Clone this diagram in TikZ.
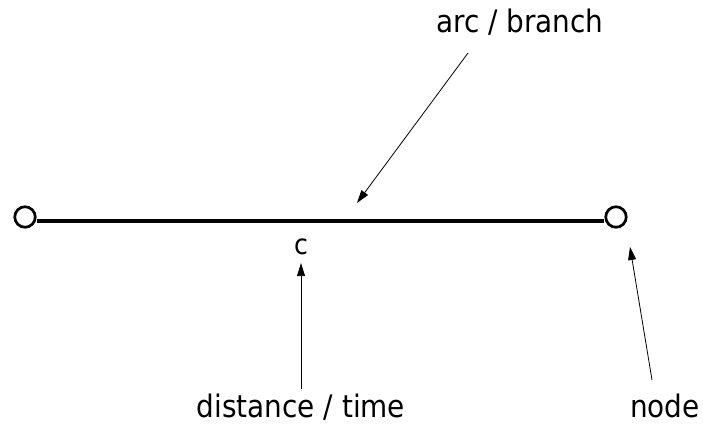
\documentclass[tikz,border=0pt]{standalone}
\usepackage{fontspec}
\setmainfont{DejaVu Sans Condensed}
\usetikzlibrary{arrows.meta}

\begin{document}
\begin{tikzpicture}[
    x=1pt, y=-1pt,
    vertex/.style={draw, circle, line width=2.7pt, minimum size=20.5pt, inner sep=0pt, fill=white},
    branch/.style={line width=4pt},
    pointer/.style={-{Triangle[length=13pt,width=8pt]}, line width=0.8pt},
    lbl/.style={font=\fontsize{31}{37}\selectfont, inner sep=4pt},
    elbl/.style={font=\fontsize{28}{33}\selectfont, inner sep=8.5pt}
]
\useasboundingbox (0,0) rectangle (703,428);
\node[vertex] (from) at (25,217) {};
\node[vertex] (to) at (616,217) {};
\draw[branch] ([yshift=-3.8pt]from.east) -- ([yshift=-3.8pt]to.west);

\node[elbl, anchor=base] (cost) at (301,254) {c};
\node[lbl, anchor=base] (arclbl) at (520,33) {arc / branch};
\node[lbl, anchor=base] (distlbl) at (301,417) {distance / time};
\node[lbl, anchor=base] (nodelbl) at (665,417) {node};

\coordinate (arctail) at (468,53);
\coordinate (arctip) at (357,203);
\coordinate (nodetail) at (652,380);
\coordinate (nodetip) at (630,247);

\draw[pointer] (arctail) -- (arctip);
\draw[pointer] (distlbl.north) -- (cost.south);
\draw[pointer] (nodetail) -- (nodetip);
\end{tikzpicture}
\end{document}
